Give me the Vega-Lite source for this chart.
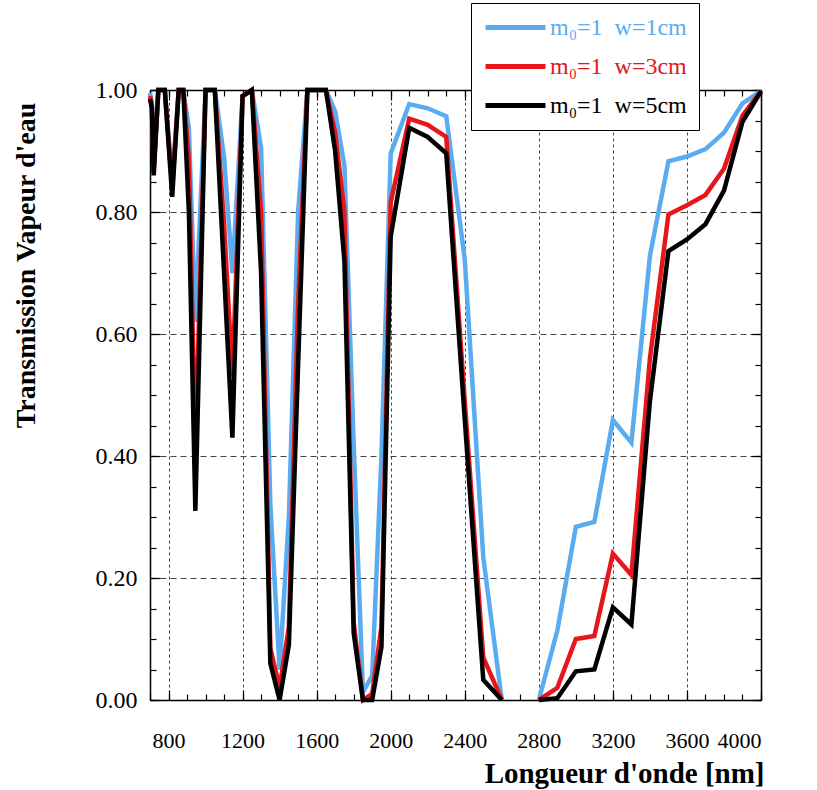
{
  "$schema": "https://vega.github.io/schema/vega-lite/v6.json",
  "autosize": "none",
  "width": 611,
  "height": 610,
  "padding": {"left": 150, "top": 90, "right": 56, "bottom": 90},
  "background": "white",
  "data": {
    "values": [
      {"nm": 700, "w1": 0.995, "w3": 0.99, "w5": 0.985},
      {"nm": 710, "w1": 0.98, "w3": 0.975, "w5": 0.97},
      {"nm": 720, "w1": 0.875, "w3": 0.865, "w5": 0.86},
      {"nm": 745, "w1": 1.0, "w3": 1.0, "w5": 1.0},
      {"nm": 780, "w1": 1.0, "w3": 1.0, "w5": 1.0},
      {"nm": 820, "w1": 0.85, "w3": 0.84, "w5": 0.825},
      {"nm": 855, "w1": 1.0, "w3": 1.0, "w5": 1.0},
      {"nm": 880, "w1": 1.0, "w3": 1.0, "w5": 1.0},
      {"nm": 910, "w1": 0.937, "w3": 0.885, "w5": 0.8},
      {"nm": 945, "w1": 0.62, "w3": 0.415, "w5": 0.31},
      {"nm": 1000, "w1": 1.0, "w3": 1.0, "w5": 1.0},
      {"nm": 1050, "w1": 1.0, "w3": 1.0, "w5": 1.0},
      {"nm": 1100, "w1": 0.89, "w3": 0.78, "w5": 0.7},
      {"nm": 1145, "w1": 0.7, "w3": 0.53, "w5": 0.43},
      {"nm": 1200, "w1": 0.99, "w3": 0.99, "w5": 0.99},
      {"nm": 1250, "w1": 1.0, "w3": 1.0, "w5": 1.0},
      {"nm": 1300, "w1": 0.905, "w3": 0.8, "w5": 0.7},
      {"nm": 1350, "w1": 0.32, "w3": 0.085, "w5": 0.06},
      {"nm": 1400, "w1": 0.05, "w3": 0.02, "w5": 0.0},
      {"nm": 1450, "w1": 0.3, "w3": 0.12, "w5": 0.09},
      {"nm": 1500, "w1": 0.8, "w3": 0.65, "w5": 0.55},
      {"nm": 1550, "w1": 1.0, "w3": 1.0, "w5": 1.0},
      {"nm": 1600, "w1": 1.0, "w3": 1.0, "w5": 1.0},
      {"nm": 1650, "w1": 1.0, "w3": 1.0, "w5": 1.0},
      {"nm": 1700, "w1": 0.965, "w3": 0.93, "w5": 0.9},
      {"nm": 1750, "w1": 0.876, "w3": 0.8, "w5": 0.72},
      {"nm": 1800, "w1": 0.42, "w3": 0.127, "w5": 0.11},
      {"nm": 1850, "w1": 0.013, "w3": 0.0, "w5": 0.0},
      {"nm": 1900, "w1": 0.04, "w3": 0.01, "w5": 0.0},
      {"nm": 1950, "w1": 0.4, "w3": 0.12, "w5": 0.087},
      {"nm": 2000, "w1": 0.896, "w3": 0.816, "w5": 0.76},
      {"nm": 2100, "w1": 0.977, "w3": 0.953, "w5": 0.938},
      {"nm": 2200, "w1": 0.97, "w3": 0.943, "w5": 0.923},
      {"nm": 2300, "w1": 0.957, "w3": 0.923, "w5": 0.896},
      {"nm": 2400, "w1": 0.722, "w3": 0.49, "w5": 0.46},
      {"nm": 2500, "w1": 0.234, "w3": 0.07, "w5": 0.033},
      {"nm": 2600, "w1": 0.0, "w3": 0.0, "w5": 0.0},
      {"nm": 2700, "w1": null, "w3": null, "w5": null},
      {"nm": 2800, "w1": 0.0, "w3": 0.0, "w5": 0.0},
      {"nm": 2900, "w1": 0.114, "w3": 0.02, "w5": 0.003},
      {"nm": 3000, "w1": 0.284, "w3": 0.1, "w5": 0.047},
      {"nm": 3100, "w1": 0.292, "w3": 0.105, "w5": 0.05},
      {"nm": 3200, "w1": 0.459, "w3": 0.24, "w5": 0.152},
      {"nm": 3300, "w1": 0.422, "w3": 0.205, "w5": 0.124},
      {"nm": 3400, "w1": 0.728, "w3": 0.56, "w5": 0.49},
      {"nm": 3500, "w1": 0.883, "w3": 0.796, "w5": 0.736},
      {"nm": 3600, "w1": 0.891, "w3": 0.811, "w5": 0.755},
      {"nm": 3700, "w1": 0.903, "w3": 0.828, "w5": 0.78},
      {"nm": 3800, "w1": 0.93, "w3": 0.871, "w5": 0.835},
      {"nm": 3900, "w1": 0.978, "w3": 0.958, "w5": 0.948},
      {"nm": 4000, "w1": 0.998, "w3": 0.998, "w5": 0.998}
    ]
  },
  "transform": [{"fold": ["w1", "w3", "w5"], "as": ["serie", "T"]}],
  "layer": [
    {
      "mark": {"type": "point", "opacity": 0},
      "encoding": {
        "x": {"field": "nm", "type": "quantitative", "scale": {"domain": [700, 4000], "nice": false, "zero": false},
          "axis": {"orient": "top", "values": [800, 1200, 1600, 2000, 2400, 2800, 3200, 3600, 4000], "labels": false, "title": null, "grid": false,
            "tickSize": -10, "tickColor": "black", "tickWidth": 1.2, "domainColor": "black", "domainWidth": 1.5}},
        "y": {"field": "T", "type": "quantitative", "scale": {"domain": [0, 1], "nice": false},
          "axis": {"orient": "right", "values": [0, 0.2, 0.4, 0.6, 0.8, 1], "labels": false, "title": null, "grid": false,
            "tickSize": -10, "tickColor": "black", "tickWidth": 1.2, "domainColor": "black", "domainWidth": 1.5}}
      }
    },
    {
      "mark": {"type": "point", "opacity": 0},
      "encoding": {
        "x": {"field": "nm", "type": "quantitative",
          "axis": {"orient": "bottom", "values": [700, 800, 900, 1000, 1100, 1200, 1300, 1400, 1500, 1600, 1700, 1800, 1900, 2000, 2100, 2200, 2300, 2400, 2500, 2600, 2700, 2800, 2900, 3000, 3100, 3200, 3300, 3400, 3500, 3600, 3700, 3800, 3900, 4000],
            "labels": false, "title": null, "grid": false, "domain": false, "tickSize": -6, "tickColor": "black", "tickWidth": 1.2}},
        "y": {"field": "T", "type": "quantitative",
          "axis": {"orient": "left", "values": [0, 0.05, 0.1, 0.15, 0.2, 0.25, 0.3, 0.35, 0.4, 0.45, 0.5, 0.55, 0.6, 0.65, 0.7, 0.75, 0.8, 0.85, 0.9, 0.95, 1],
            "labels": false, "title": null, "grid": false, "domain": false, "tickSize": -6, "tickColor": "black", "tickWidth": 1.2}}
      }
    },
    {
      "mark": {"type": "point", "opacity": 0},
      "encoding": {
        "x": {"field": "nm", "type": "quantitative",
          "axis": {"orient": "top", "values": [700, 800, 900, 1000, 1100, 1200, 1300, 1400, 1500, 1600, 1700, 1800, 1900, 2000, 2100, 2200, 2300, 2400, 2500, 2600, 2700, 2800, 2900, 3000, 3100, 3200, 3300, 3400, 3500, 3600, 3700, 3800, 3900, 4000],
            "labels": false, "title": null, "grid": false, "domain": false, "tickSize": -6, "tickColor": "black", "tickWidth": 1.2}},
        "y": {"field": "T", "type": "quantitative",
          "axis": {"orient": "right", "values": [0, 0.05, 0.1, 0.15, 0.2, 0.25, 0.3, 0.35, 0.4, 0.45, 0.5, 0.55, 0.6, 0.65, 0.7, 0.75, 0.8, 0.85, 0.9, 0.95, 1],
            "labels": false, "title": null, "grid": false, "domain": false, "tickSize": -6, "tickColor": "black", "tickWidth": 1.2}}
      }
    },
    {
      "mark": {"type": "line", "strokeWidth": 4.5, "strokeJoin": "miter", "invalid": "break-paths-show-domains"},
      "encoding": {
        "x": {"field": "nm", "type": "quantitative",
          "axis": {"orient": "bottom", "values": [800, 1200, 1600, 2000, 2400, 2800, 3200, 3600, 4000], "format": "d",
            "labelFont": "Liberation Serif", "labelFontSize": 22, "labelColor": "black", "labelPadding": 40,
            "tickSize": -10, "tickColor": "black", "tickWidth": 1.2, "domainColor": "black", "domainWidth": 1.5,
            "grid": true, "gridColor": "#444", "gridDash": [3, 3], "gridWidth": 1,
            "title": "Longueur d'onde [nm]", "titleFont": "Liberation Serif", "titleFontSize": 29, "titleFontWeight": "bold", "titleColor": "black",
            "titleX": 614, "titleY": 82, "titleAlign": "right", "titleBaseline": "alphabetic", "titleAnchor": null}},
        "y": {"field": "T", "type": "quantitative",
          "axis": {"orient": "left", "values": [0, 0.2, 0.4, 0.6, 0.8, 1], "format": ".2f",
            "labelFont": "Liberation Serif", "labelFontSize": 24, "labelColor": "black", "labelPadding": 23,
            "tickSize": -10, "tickColor": "black", "tickWidth": 1.2, "domainColor": "black", "domainWidth": 1.5,
            "grid": true, "gridColor": "#444", "gridDash": [6, 4], "gridWidth": 1,
            "title": "Transmission Vapeur d'eau", "titleFont": "Liberation Serif", "titleFontSize": 28, "titleFontWeight": "bold", "titleColor": "black",
            "titleX": -124, "titleY": 175, "titleAngle": -90, "titleAlign": "center", "titleBaseline": "middle"}},
        "color": {"field": "serie", "type": "nominal",
          "scale": {"domain": ["w1", "w3", "w5"], "range": ["#5aacf0", "#e6161b", "#000000"]},
          "legend": {"orient": "none", "legendX": 321, "legendY": -87, "title": null,
            "labelExpr": "datum.value == 'w1' ? 'm₀=1\u00a0 w=1cm' : datum.value == 'w3' ? 'm₀=1\u00a0 w=3cm' : 'm₀=1\u00a0 w=5cm'",
            "symbolType": "M-3,0H3", "symbolSize": 400, "symbolStrokeWidth": 5, "symbolOffset": 20,
            "labelFont": "Liberation Serif", "labelFontSize": 24, "labelOffset": 22, "rowPadding": 14, "padding": 12,
            "strokeColor": "black", "fillColor": "white",
            "encode": {"labels": {"update": {"fill": {"signal": "scale('color', datum.value)"}}}}}}
      }
    }
  ],
  "resolve": {"axis": {"x": "independent", "y": "independent"}},
  "config": {"view": {"stroke": null}}
}
